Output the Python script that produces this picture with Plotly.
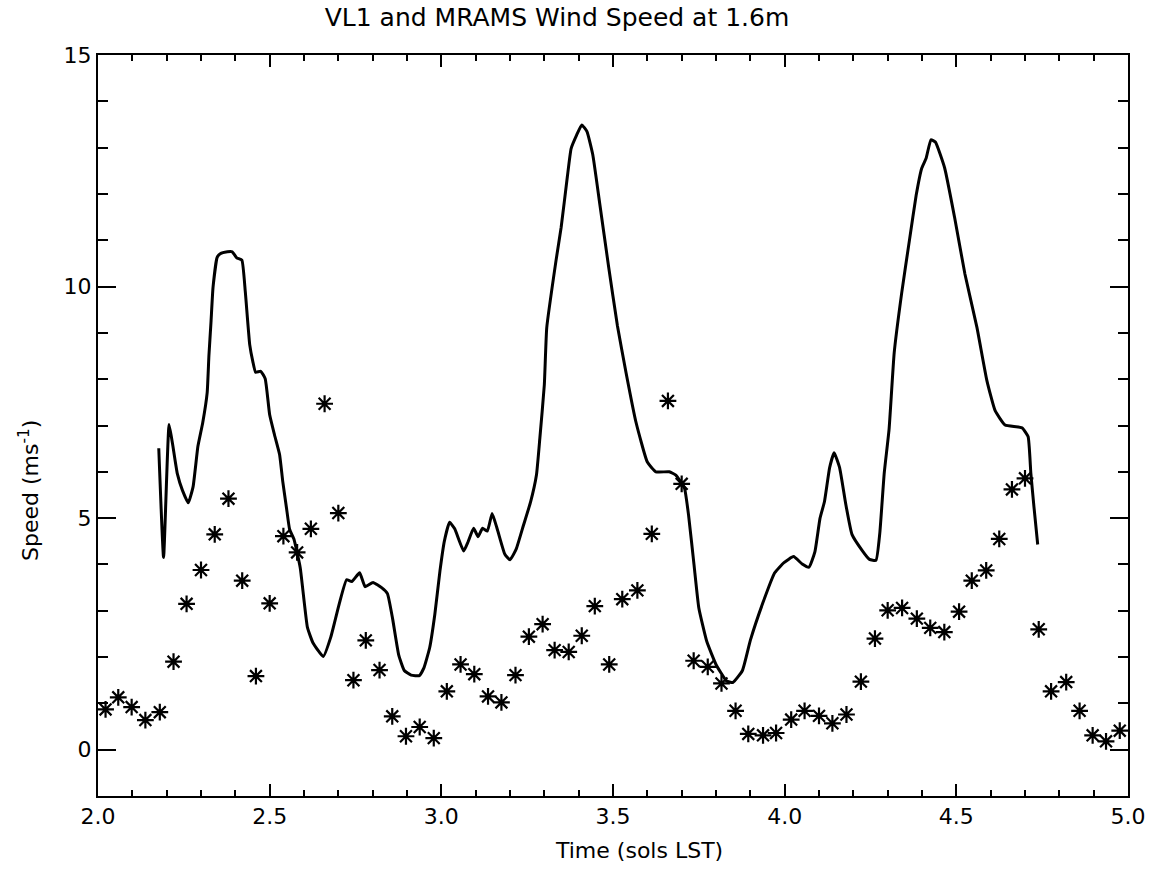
import plotly.graph_objects as go

# VL1 observations (stars): time in sols LST, wind speed in m/s
vl1_time = [2.022, 2.059, 2.098, 2.138, 2.180, 2.220, 2.258, 2.300, 2.340, 2.380,
            2.420, 2.460, 2.500, 2.540, 2.580, 2.620, 2.660, 2.700, 2.744, 2.780,
            2.820, 2.857, 2.897, 2.937, 2.978, 3.016, 3.056, 3.096, 3.136, 3.175,
            3.216, 3.255, 3.295, 3.330, 3.371, 3.409, 3.447, 3.489, 3.527, 3.571,
            3.613, 3.660, 3.700, 3.735, 3.776, 3.816, 3.857, 3.894, 3.937, 3.975,
            4.019, 4.058, 4.100, 4.139, 4.180, 4.222, 4.263, 4.300, 4.342, 4.385,
            4.424, 4.465, 4.508, 4.545, 4.587, 4.625, 4.662, 4.700, 4.740, 4.776,
            4.820, 4.859, 4.897, 4.936, 4.976]
vl1_speed = [0.87, 1.13, 0.92, 0.64, 0.81, 1.90, 3.15, 3.88, 4.65, 5.42,
             3.65, 1.59, 3.16, 4.61, 4.26, 4.77, 7.47, 5.11, 1.50, 2.36,
             1.72, 0.72, 0.29, 0.49, 0.25, 1.26, 1.84, 1.63, 1.15, 1.02,
             1.61, 2.44, 2.71, 2.15, 2.11, 2.46, 3.10, 1.84, 3.25, 3.44,
             4.66, 7.53, 5.74, 1.92, 1.79, 1.43, 0.84, 0.34, 0.31, 0.36,
             0.65, 0.84, 0.73, 0.57, 0.76, 1.47, 2.40, 3.01, 3.06, 2.83,
             2.63, 2.54, 2.98, 3.65, 3.87, 4.55, 5.62, 5.86, 2.60, 1.26,
             1.46, 0.84, 0.31, 0.18, 0.41]

# MRAMS model (solid line)
mrams_time = [2.177, 2.191, 2.207, 2.217, 2.231, 2.246, 2.263, 2.277, 2.291, 2.305,
              2.318, 2.323, 2.329, 2.335, 2.347, 2.356, 2.377, 2.391, 2.404, 2.419,
              2.429, 2.442, 2.451, 2.459, 2.474, 2.487, 2.500, 2.514, 2.529, 2.538,
              2.549, 2.558, 2.571, 2.589, 2.610, 2.626, 2.656, 2.678, 2.703, 2.724,
              2.739, 2.762, 2.778, 2.801, 2.826, 2.843, 2.858, 2.876, 2.892, 2.912,
              2.936, 2.949, 2.966, 2.981, 2.996, 3.009, 3.024, 3.039, 3.065, 3.078,
              3.094, 3.107, 3.120, 3.134, 3.148, 3.163, 3.185, 3.200, 3.218, 3.239,
              3.260, 3.277, 3.287, 3.300, 3.307, 3.334, 3.349, 3.367, 3.378, 3.394,
              3.409, 3.424, 3.441, 3.461, 3.487, 3.513, 3.538, 3.567, 3.600, 3.625,
              3.664, 3.683, 3.708, 3.720, 3.736, 3.750, 3.773, 3.800, 3.830, 3.849,
              3.877, 3.900, 3.936, 3.971, 3.998, 4.026, 4.051, 4.071, 4.088, 4.103,
              4.116, 4.131, 4.144, 4.160, 4.178, 4.196, 4.226, 4.247, 4.266, 4.277,
              4.290, 4.304, 4.319, 4.341, 4.364, 4.383, 4.399, 4.412, 4.426, 4.439,
              4.466, 4.495, 4.525, 4.560, 4.589, 4.613, 4.642, 4.691, 4.709, 4.717,
              4.726, 4.737]
mrams_speed = [6.51, 4.15, 7.02, 6.61, 5.96, 5.60, 5.33, 5.68, 6.55, 7.06,
               7.71, 8.50, 9.22, 9.98, 10.63, 10.71, 10.75, 10.75, 10.62, 10.57,
               9.89, 8.74, 8.38, 8.15, 8.17, 8.01, 7.23, 6.80, 6.37, 5.80,
               5.22, 4.76, 4.54, 3.93, 2.64, 2.31, 2.01, 2.43, 3.16, 3.67,
               3.63, 3.82, 3.52, 3.61, 3.50, 3.37, 2.83, 2.04, 1.71, 1.61,
               1.60, 1.76, 2.20, 2.92, 3.86, 4.51, 4.91, 4.77, 4.29, 4.49,
               4.78, 4.60, 4.78, 4.72, 5.10, 4.76, 4.22, 4.10, 4.33, 4.84,
               5.35, 5.93, 6.73, 7.88, 9.11, 10.56, 11.28, 12.37, 12.98, 13.27,
               13.49, 13.35, 12.85, 11.81, 10.44, 9.15, 8.14, 7.07, 6.21, 6.00,
               6.00, 5.93, 5.65, 5.07, 3.99, 3.06, 2.34, 1.84, 1.49, 1.45,
               1.71, 2.36, 3.16, 3.82, 4.04, 4.17, 4.01, 3.94, 4.27, 5.00,
               5.36, 6.09, 6.41, 6.09, 5.30, 4.65, 4.30, 4.11, 4.09, 4.67,
               5.97, 6.91, 8.57, 9.87, 11.03, 11.97, 12.55, 12.77, 13.17, 13.12,
               12.56, 11.49, 10.27, 9.12, 7.97, 7.32, 7.01, 6.95, 6.76, 5.97,
               5.25, 4.43]

x_ticks = [2.0, 2.5, 3.0, 3.5, 4.0, 4.5, 5.0]
x_labels = ["2.0", "2.5", "3.0", "3.5", "4.0", "4.5", "5.0"]
y_ticks = [0, 5, 10, 15]
y_labels = ["0", "5", "10", "15"]

FONT = "DejaVu Sans"

fig = go.Figure()
fig.add_trace(go.Scatter(
    x=mrams_time, y=mrams_speed, mode="lines",
    line=dict(color="black", width=3, shape="spline", smoothing=0.4),
    name="MRAMS", showlegend=False))
fig.add_trace(go.Scatter(
    x=vl1_time, y=vl1_speed, mode="markers",
    marker=dict(symbol="asterisk-open", size=14, color="black",
                line=dict(color="black", width=2.2)),
    name="VL1", showlegend=False))

fig.update_layout(
    width=1158, height=875,
    margin=dict(l=98, r=27, t=55, b=79),
    paper_bgcolor="white", plot_bgcolor="white",
    font=dict(family=FONT, size=22, color="black"),
    title=dict(text="VL1 and MRAMS Wind Speed at 1.6m",
               x=0.481, xref="container", xanchor="center",
               y=0.99, yref="container", yanchor="top",
               font=dict(family=FONT, size=25, color="black")),
)

fig.update_xaxes(
    range=[2.0, 5.0], tickvals=x_ticks, ticktext=x_labels,
    showline=True, linecolor="black", linewidth=2, mirror="ticks",
    ticks="inside", ticklen=12, tickwidth=1.6, tickcolor="black",
    minor=dict(dtick=0.1, tick0=2.0, ticks="inside", ticklen=6,
               tickwidth=1.6, tickcolor="black"),
    showgrid=False, zeroline=False,
    tickfont=dict(family=FONT, size=22, color="black"),
)
fig.update_yaxes(
    range=[-1, 15], tickvals=y_ticks, ticktext=y_labels,
    showline=True, linecolor="black", linewidth=2, mirror="ticks",
    ticks="inside", ticklen=18, tickwidth=1.6, tickcolor="black",
    minor=dict(dtick=1, tick0=0, ticks="inside", ticklen=10,
               tickwidth=1.6, tickcolor="black"),
    showgrid=False, zeroline=False,
    tickfont=dict(family=FONT, size=22, color="black"),
)

fig.add_annotation(text="Time (sols LST)", xref="paper", yref="paper",
                   x=0.525, y=-0.073, xanchor="center", yanchor="middle",
                   showarrow=False, font=dict(family=FONT, size=22, color="black"))
fig.add_annotation(text="Speed (ms<sup>-1</sup>)", xref="paper", yref="paper",
                   x=-0.067, y=0.413, xanchor="center", yanchor="middle",
                   textangle=-90, showarrow=False,
                   font=dict(family=FONT, size=22, color="black"))

fig.write_html("out.html")
